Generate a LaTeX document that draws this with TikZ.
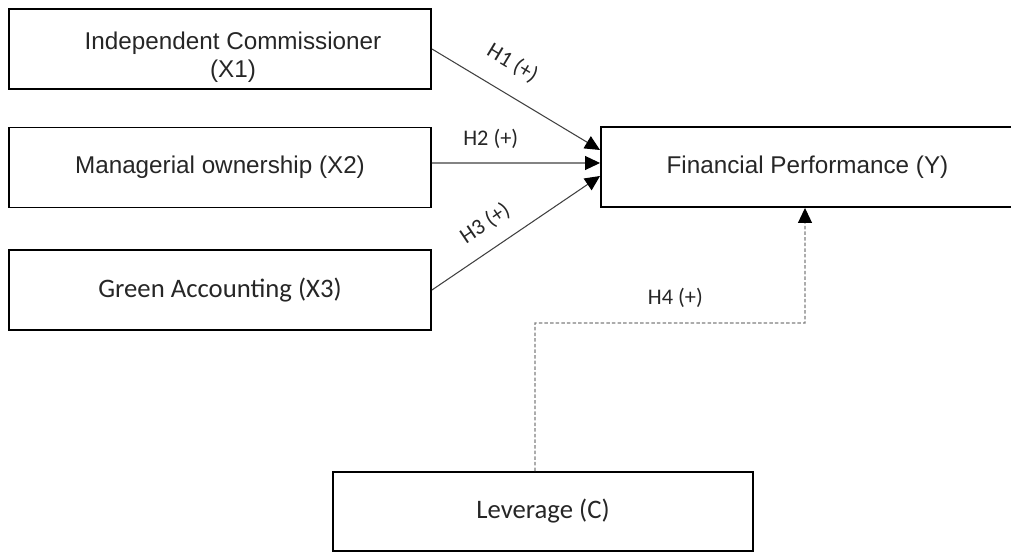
\documentclass[tikz,border=0pt]{standalone}
\usepackage{fontspec}
\setmainfont{Liberation Sans}
\newfontfamily\calibri{Carlito}
\usepackage{tikz}
\usetikzlibrary{calc, arrows.meta}

\begin{document}
\begin{tikzpicture}[
        box/.style={rectangle, draw=black, line width=1.1pt, minimum height=1.6cm, inner sep=0pt, align=center, text=black!85, font=\fontsize{13.8}{15.9}\selectfont},
        hyp/.style={-{Triangle[length=0.3cm, width=0.28cm, color=black]}, draw=black!75, line width=0.6pt},
        hyplabel/.style={inner sep=0pt, text=black!85, font=\calibri\fontsize{12.7}{14}\selectfont}
    ]

        \useasboundingbox (0,0) rectangle (20.22,-11.04);

        %% Independent variables
        \node (x1) [box, minimum width=8.44cm] at (4.40,-0.98) {\rule{0pt}{0.68cm}\hspace*{0.52cm}Independent Commissioner\\\hspace*{0.52cm}(X1)};
        \node (x2) [box, minimum width=8.44cm] at (4.40,-3.35) {Managerial ownership (X2)};
        \node (x3) [box, minimum width=8.44cm, font=\calibri\fontsize{15.2}{18}\selectfont] at (4.40,-5.80) {Green Accounting (X3)};

        %% Dependent variable
        \node (y) [box, minimum width=8.26cm] at (16.15,-3.34) {Financial Performance (Y)};

        %% Control variable
        \node (lev) [box, minimum width=8.40cm, minimum height=1.58cm, font=\calibri\fontsize{15.2}{18}\selectfont] at (10.86,-10.23) {Leverage (C)};

        %% Hypotheses
        \draw [hyp] (x1.east) -- ([yshift=0.34cm]y.west) node [hyplabel, sloped, above=0.38cm, pos=0.39] {H1 (+)};
        \draw [hyp] ([yshift=0.09cm]x2.east) -- ([yshift=0.08cm]y.west) node [hyplabel, above=0.28cm, pos=0.35] {H2 (+)};
        \draw [hyp] (x3.east) -- ([yshift=-0.18cm]y.west) node [hyplabel, sloped, above=0.30cm, pos=0.40] {H3 (+)};

        %% Leverage path
        \coordinate (h4bend) at (16.10,-6.46);
        \draw [hyp, draw=black!50, dash pattern=on 2pt off 1.2pt] ([xshift=-0.16cm]lev.north) |- (h4bend) node [hyplabel, above=0.30cm, pos=0.76] {H4 (+)} -- ([xshift=-0.05cm]y.south);

\end{tikzpicture}
\end{document}
